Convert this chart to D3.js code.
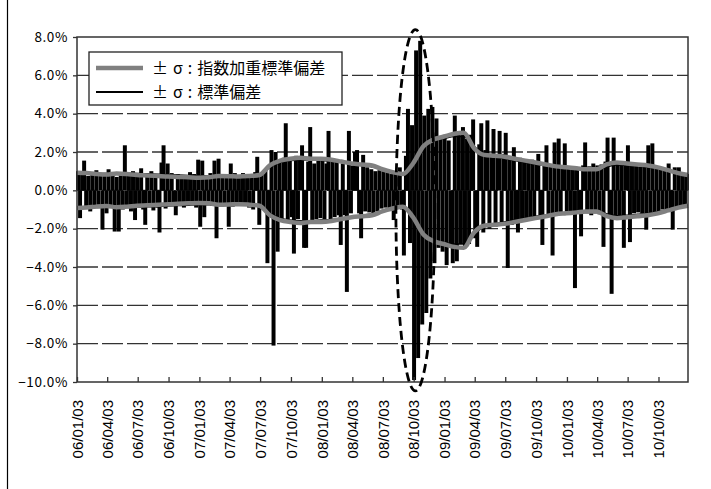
<!DOCTYPE html>
<html>
<head>
<meta charset="utf-8">
<script src="https://cdn.jsdelivr.net/npm/d3@7"></script>
<style>
  html, body { margin: 0; padding: 0; background: #fff; }
  svg { display: block; }
</style>
</head>
<body>
<svg id="chart" width="711" height="489"></svg>
<script>
// daily returns (%), sampled about every 4 trading days, 06/01/03 .. 10/12/30
const returns = [
  1.0, -1.45, 0.85, 1.55, -0.95, 0.75, -1.1, 0.95, -0.85, 1.05,
  -0.9, 0.8, -2.05, 0.9, -1.2, 1.1, -0.8, 0.95, -2.15, 0.7,
  -2.15, 0.9, -1.0, 2.35, -0.85, 0.8, -1.1, 1.0, -1.55, 0.85,
  -0.9, 1.15, -1.0, -1.8, 0.9, -0.75, 1.0, -1.05, 0.8, -0.9,
  -2.2, 1.45, 2.35, -0.95, 1.4, -0.8, 0.9, -0.7, -1.3, 0.85,
  -0.75, 0.8, -0.9, 0.7, -0.8, 0.95, -0.7, 0.85, -0.9, 1.6,
  -1.9, 1.55, -1.4, 0.8, -0.75, 0.9, -0.8, 1.55, -2.5, 1.65,
  -0.8, 0.85, -0.75, 0.8, -1.9, 1.4, -0.85, 0.9, -0.7, 0.8,
  -0.75, 0.9, -0.8, 0.85, -0.9, 0.8, -1.0, 0.95, 1.75, -1.8,
  0.9, -1.0, 1.1, -3.8, -1.2, 2.1, -8.1, 2.0, -3.2, 1.5,
  -1.6, 1.7, 3.5, -1.5, 1.6, -1.4, -3.3, 1.8, -1.5, 1.6,
  2.35, -3.0, -3.0, 1.5, 3.3, -1.6, 1.4, -1.5, 1.7, -1.45,
  1.6, -1.5, 1.4, 3.1, -1.6, 1.5, -1.4, 1.5, -1.3, -2.85,
  1.4, -1.3, -5.3, 3.1, -1.2, 1.3, 2.0, 2.1, -1.2, -2.5,
  1.85, -1.1, 1.2, -1.15, 1.1, -1.2, 1.0, -1.1, 1.05, -0.95,
  1.0, -0.9, 0.95, -1.0, 0.85, -1.55, 0.9, -0.85, 1.2, -1.0,
  -3.4, 1.8, 4.25, -2.75, 3.4, -9.9, 7.3, -8.75, 7.8, -7.0,
  3.9, -6.4, 4.25, -4.6, 4.35, -3.8, 3.75, -3.0, 2.8, -3.2,
  2.9, -3.9, 2.6, -3.0, -3.8, 3.9, -3.7, 2.9, -2.8, 3.3,
  -3.0, 2.7, -2.8, 2.9, 3.7, -2.5, -2.95, 2.4, 3.5, -2.2,
  2.1, 3.65, -2.0, 1.9, 3.2, -1.9, 1.8, 3.1, -1.8, 1.9,
  3.0, -4.05, 1.7, -1.8, 2.25, -1.6, -2.2, 1.7, -1.5, 1.6,
  -1.55, 1.5, -1.45, 1.6, -1.4, 1.5, 1.9, -1.3, -2.85, 1.4,
  2.35, -1.3, 1.3, -3.4, 2.5, -1.2, 2.7, -1.25, 1.2, 2.45,
  -1.15, 1.2, -1.1, 1.15, -5.1, 1.1, -1.2, -2.4, 1.3, 2.5,
  -1.2, 1.25, -1.3, 1.4, -1.2, 1.3, -1.25, 1.35, -2.95, 1.5,
  2.75, -1.3, -5.4, 2.75, -1.4, 1.4, -1.3, 1.45, -3.0, 1.3,
  2.35, -2.7, 1.3, -1.2, 1.25, -1.15, 1.3, -1.2, 1.25, -2.05,
  2.35, -1.2, 2.45, -1.15, 1.2, -1.1, 1.15, -1.0, 1.05, -1.0,
  1.4, -0.95, -2.05, 1.2, -0.9, 1.2, -0.85, 0.9, -0.8, 0.85
];

// σ at the start of each month 2006/01 .. 2010/12, plus 2010/12/30 (%)
const sigmaEwma = [
  0.92, 0.90, 0.85, 0.82, 0.88, 0.85, 0.80, 0.78, 0.75, 0.72, 0.70, 0.68,
  0.66, 0.68, 0.75, 0.74, 0.72, 0.75, 0.80, 1.30, 1.55, 1.65, 1.70, 1.65,
  1.65, 1.60, 1.50, 1.40, 1.35, 1.30, 1.10, 0.95, 0.85, 1.40, 2.30, 2.65,
  2.80, 2.95, 3.00, 2.20, 1.85, 1.80, 1.75, 1.65, 1.55, 1.45, 1.35, 1.25,
  1.20, 1.15, 1.10, 1.10, 1.35, 1.45, 1.40, 1.35, 1.30, 1.20, 1.05, 0.90,
  0.80
];
const sigmaStd = [
  0.95, 0.93, 0.90, 0.88, 0.90, 0.90, 0.88, 0.86, 0.84, 0.82, 0.80, 0.78,
  0.76, 0.76, 0.78, 0.78, 0.76, 0.76, 0.78, 1.20, 1.45, 1.55, 1.58, 1.58,
  1.55, 1.52, 1.46, 1.38, 1.30, 1.22, 1.10, 0.98, 0.90, 1.30, 2.25, 2.60,
  2.70, 2.80, 2.80, 2.30, 1.90, 1.75, 1.65, 1.55, 1.45, 1.35, 1.28, 1.20,
  1.15, 1.10, 1.06, 1.06, 1.22, 1.32, 1.30, 1.25, 1.20, 1.12, 1.00, 0.88,
  0.78
];

const yTicks = [8, 6, 4, 2, 0, -2, -4, -6, -8, -10];
const xTickLabels = [
  '06/01/03', '06/04/03', '06/07/03', '06/10/03',
  '07/01/03', '07/04/03', '07/07/03', '07/10/03',
  '08/01/03', '08/04/03', '08/07/03', '08/10/03',
  '09/01/03', '09/04/03', '09/07/03', '09/10/03',
  '10/01/03', '10/04/03', '10/07/03', '10/10/03'
];
const legendItems = [
  { prefix: '±σ:', label: '指数加重標準偏差', color: '#808080', width: 4.5 },
  { prefix: '±σ:', label: '標準偏差', color: '#000', width: 2 }
];

const JP = '"Noto Sans CJK JP", "Noto Sans", sans-serif';
const plot = { left: 77, right: 688, top: 37, bottom: 382 };
const parse = d3.timeParse('%y/%m/%d');
const start = parse('06/01/03'), end = parse('10/12/30');

const svg = d3.select('#chart');

const x = d3.scaleTime().domain([start, end]).range([plot.left, plot.right]);
const y = d3.scaleLinear().domain([-10, 8]).range([plot.bottom, plot.top]);
const xi = d3.scaleLinear().domain([0, returns.length]).range([plot.left, plot.right]);

// outer frame (only the left edge shows in the crop)
svg.append('line')
  .attr('x1', 7.5).attr('x2', 7.5).attr('y1', 0).attr('y2', 489)
  .attr('stroke', '#000').attr('stroke-width', 1.2);

// dashed gridlines
svg.append('g')
  .selectAll('line')
  .data(yTicks.filter(v => v > -10 && v < 8))
  .enter().append('line')
  .attr('x1', plot.left).attr('x2', plot.right)
  .attr('y1', d => y(d)).attr('y2', d => y(d))
  .attr('stroke', '#333').attr('stroke-width', 1.3)
  .attr('stroke-dasharray', '21,4');

// bars (wide enough that neighbours of the same sign close up, as in the dense original)
const bw = (xi(1) - xi(0)) * 1.95;
svg.append('g')
  .selectAll('rect')
  .data(returns)
  .enter().append('rect')
  .attr('x', (d, i) => xi(i + 0.5) - bw / 2)
  .attr('width', bw)
  .attr('y', d => y(Math.max(0, d)))
  .attr('height', d => Math.abs(y(d) - y(0)))
  .attr('fill', '#000');

// ±σ lines
const months = d3.timeMonth.range(new Date(2006, 0, 1), new Date(2011, 0, 1));
const sigDates = months.map(d => d < start ? start : d).concat([end]);

function drawBand(vals, color, width) {
  [1, -1].forEach(sign => {
    const line = d3.line()
      .x((d, i) => x(sigDates[i]))
      .y(d => y(sign * d))
      .curve(d3.curveMonotoneX);
    svg.append('path')
      .datum(vals)
      .attr('d', line)
      .attr('fill', 'none')
      .attr('stroke', color)
      .attr('stroke-width', width)
      .attr('stroke-linejoin', 'round');
  });
}
drawBand(sigmaStd, legendItems[1].color, 1.4);
drawBand(sigmaEwma, legendItems[0].color, legendItems[0].width);

// plot frame
svg.append('rect')
  .attr('x', plot.left).attr('y', plot.top)
  .attr('width', plot.right - plot.left).attr('height', plot.bottom - plot.top)
  .attr('fill', 'none').attr('stroke', '#333').attr('stroke-width', 1.5);

// y axis
const yAxis = svg.append('g')
  .attr('transform', `translate(${plot.left},0)`)
  .call(d3.axisLeft(y).tickValues(yTicks).tickSize(4).tickFormat(d => d3.format('.1f')(d) + '%'));
yAxis.select('.domain').remove();
yAxis.selectAll('line').attr('stroke', '#333').attr('stroke-width', 1.3);
yAxis.selectAll('text')
  .attr('x', -9)
  .attr('fill', '#000')
  .style('font-family', JP)
  .style('font-size', '13.5px')
  .style('letter-spacing', '0.6px');

// x axis: ticks point inwards, labels rotated
const xTicks = xTickLabels.map(parse);
const xAxis = svg.append('g')
  .attr('transform', `translate(0,${plot.bottom})`)
  .call(d3.axisBottom(x).tickValues(xTicks).tickSize(-5).tickFormat(d3.timeFormat('%y/%m/%d')));
xAxis.select('.domain').remove();
xAxis.selectAll('line').attr('stroke', '#333').attr('stroke-width', 1.3);
xAxis.selectAll('text')
  .attr('transform', 'rotate(-90)')
  .attr('x', -18).attr('y', 0).attr('dy', '0.35em')
  .attr('text-anchor', 'end')
  .attr('fill', '#000')
  .style('font-family', '"Liberation Sans", Arial, sans-serif')
  .style('font-size', '15px');

// legend
const lg = svg.append('g').attr('transform', 'translate(89,52)');
lg.append('rect')
  .attr('width', 253).attr('height', 53)
  .attr('fill', '#fff').attr('stroke', '#222').attr('stroke-width', 1.3);
legendItems.forEach((it, k) => {
  const ly = 16 + k * 24;
  lg.append('line')
    .attr('x1', 7).attr('x2', 54).attr('y1', ly).attr('y2', ly)
    .attr('stroke', it.color).attr('stroke-width', it.width);
  const t = lg.append('text')
    .attr('x', 63).attr('y', ly).attr('dy', '0.36em')
    .style('font-family', JP).style('font-size', '16px')
    .attr('fill', '#000');
  t.append('tspan').style('letter-spacing', '5px').text(it.prefix);
  t.append('tspan').text(it.label);
});

// dashed ellipse around the 2008/10 shock
const cDate = parse('08/10/08');
svg.append('ellipse')
  .attr('cx', x(cDate))
  .attr('cy', y(-1.04))
  .attr('rx', x(d3.timeDay.offset(cDate, 58)) - x(cDate))
  .attr('ry', (y(-10.45) - y(8.4)) / 2)
  .attr('fill', 'none')
  .attr('stroke', '#000').attr('stroke-width', 2.8)
  .attr('stroke-dasharray', '9,5');
</script>
</body>
</html>
